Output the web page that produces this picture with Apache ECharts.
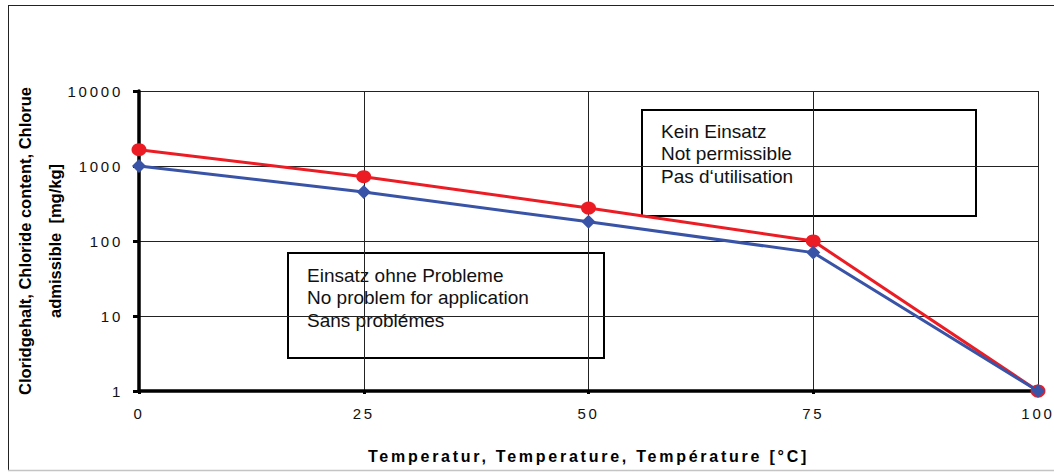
<!DOCTYPE html>
<html>
<head>
<meta charset="utf-8">
<script src="https://cdn.jsdelivr.net/npm/echarts@6/dist/echarts.min.js"></script>
<style>
html, body { margin: 0; padding: 0; background: #fff; }
#chart { width: 1054px; height: 472px; }
/* spaced-out lettering of the axis labels and x-axis title */
#chart text[style*="sans-serif"] { letter-spacing: 2.75px; }
</style>
</head>
<body>
<div id="chart"></div>
<script>
// ---- data ----
const temperatures = [0, 25, 50, 75, 100];               // °C
const limitNotPermissible = [1650, 720, 275, 100, 1];    // red line (mg/kg)
const limitNoProblem = [1000, 450, 180, 70, 1];          // blue line (mg/kg)
const xTickValues = [0, 25, 50, 75, 100];
const yTickValues = [1, 10, 100, 1000, 10000];

const yAxisTitle = 'Cloridgehalt, Chloride content, Chlorue\nadmissible  [mg/kg]';
const xAxisTitle = 'Temperatur, Temperature, Température [°C]';
const boxUpperText = 'Kein Einsatz\nNot permissible\nPas d‘utilisation';
const boxLowerText = 'Einsatz ohne Probleme\nNo problem for application\nSans problémes';

const spacedFont = "'Liberation Sans', sans-serif";
const plainFont = 'Liberation Sans';

const chart = echarts.init(document.getElementById('chart'), null, { renderer: 'svg' });

function pairs(xs, ys) { return xs.map((x, i) => [x, ys[i]]); }

const option = {
  animation: false,
  backgroundColor: '#fff',
  grid: { left: 139, right: 16, top: 91, bottom: 81, containLabel: false },
  xAxis: {
    type: 'value',
    min: xTickValues[0],
    max: xTickValues[xTickValues.length - 1],
    interval: 25,
    name: xAxisTitle,
    nameLocation: 'middle',
    nameGap: 57,
    nameTextStyle: { fontFamily: spacedFont, fontSize: 16, fontWeight: 'bold', color: '#000' },
    axisLine: { lineStyle: { color: '#000', width: 3.5 } },
    axisTick: { show: true, length: 3, lineStyle: { color: '#000', width: 3 } },
    axisLabel: { fontFamily: spacedFont, fontSize: 15, color: '#111', margin: 15,
                 showMinLabel: true, showMaxLabel: true,
                 formatter: v => String(v) },
    splitLine: { show: true, lineStyle: { color: '#222', width: 1 } }
  },
  yAxis: {
    type: 'log',
    logBase: 10,
    min: yTickValues[0],
    max: yTickValues[yTickValues.length - 1],
    name: yAxisTitle,
    nameLocation: 'middle',
    nameRotate: 90,
    nameGap: 68,
    nameTextStyle: { fontFamily: plainFont, fontSize: 16.5, fontWeight: 'bold', color: '#000',
                     lineHeight: 30, align: 'center' },
    axisLine: { show: true, lineStyle: { color: '#000', width: 3.5 } },
    axisTick: { show: true, length: 6, lineStyle: { color: '#000', width: 3 } },
    axisLabel: { fontFamily: spacedFont, fontSize: 15, color: '#111', margin: 16,
                 formatter: v => String(Math.round(v)) },
    splitLine: { show: true, lineStyle: { color: '#222', width: 1 } }
  },
  graphic: [
    // outer frame
    { type: 'line', shape: { x1: 8, y1: 5.5, x2: 1054, y2: 5.5 }, style: { stroke: '#222', lineWidth: 1 }, z: 100 },
    { type: 'line', shape: { x1: 8.5, y1: 5, x2: 8.5, y2: 470 }, style: { stroke: '#222', lineWidth: 1 }, z: 100 },
    { type: 'line', shape: { x1: 8, y1: 470.5, x2: 1054, y2: 470.5 }, style: { stroke: '#c4c4c4', lineWidth: 1.5 }, z: 100 },
    // annotation boxes
    {
      type: 'group', z: 100,
      children: [
        { type: 'rect', shape: { x: 642, y: 110, width: 334, height: 106 },
          style: { fill: '#fff', stroke: '#000', lineWidth: 2 } },
        { type: 'text', x: 661, y: 120,
          style: { text: boxUpperText, fontFamily: plainFont, fontSize: 19, lineHeight: 22.4,
                   fill: '#111', verticalAlign: 'top', align: 'left' } }
      ]
    },
    {
      type: 'group', z: 100,
      children: [
        { type: 'rect', shape: { x: 288, y: 253, width: 316, height: 105 },
          style: { fill: '#fff', stroke: '#000', lineWidth: 2 } },
        { type: 'text', x: 307, y: 264,
          style: { text: boxLowerText, fontFamily: plainFont, fontSize: 19, lineHeight: 22.5,
                   fill: '#111', verticalAlign: 'top', align: 'left' } }
      ]
    }
  ],
  series: [
    {
      name: 'Kein Einsatz',
      type: 'line',
      data: pairs(temperatures, limitNotPermissible),
      symbol: 'circle',
      symbolSize: [15, 13],
      lineStyle: { color: '#ec1c24', width: 3 },
      itemStyle: { color: '#ec1c24' },
      clip: false,
      z: 10
    },
    {
      name: 'Einsatz ohne Probleme',
      type: 'line',
      data: pairs(temperatures, limitNoProblem),
      symbol: 'diamond',
      symbolSize: [14, 14],
      lineStyle: { color: '#3953a6', width: 3 },
      itemStyle: { color: '#3953a6' },
      clip: false,
      z: 11
    }
  ]
};

chart.setOption(option);
</script>
</body>
</html>
